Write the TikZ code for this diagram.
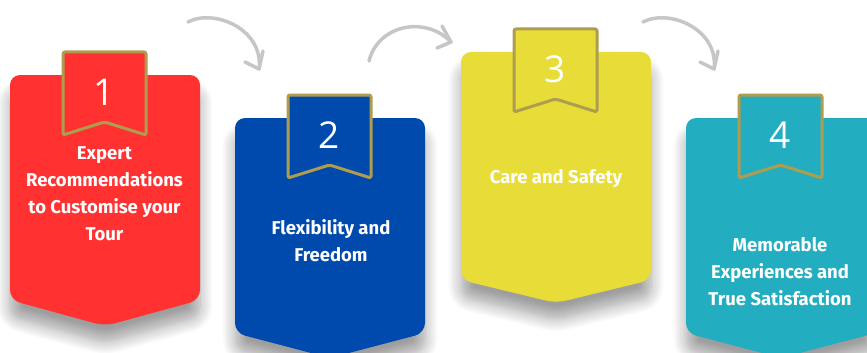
\documentclass[tikz,border=0pt]{standalone}
\usepackage{fontspec}
\setmainfont{Fira Sans}
\newfontfamily\numfont{Open Sans}
\usetikzlibrary{shadows.blur}
\definecolor{cred}{HTML}{FF3131}
\definecolor{cblue}{HTML}{004AAD}
\definecolor{cyel}{HTML}{E8DC38}
\definecolor{cteal}{HTML}{22AEC0}
\definecolor{gold}{HTML}{AE9D4E}
\definecolor{arrowgray}{HTML}{C6C6C6}
\tikzset{
  cardshadow/.style={blur shadow={shadow xshift=0pt,shadow yshift=-17pt,shadow blur radius=13pt,shadow blur steps=10,shadow opacity=38}},
  ribbon/.style={draw=gold,line width=3pt,rounded corners=2pt,line join=round},
  numlbl/.style={text=white,font=\numfont\fontsize{37}{37}\selectfont,inner sep=0pt},
  cardlbl/.style={text=white,font=\bfseries\fontsize{18.5}{27}\selectfont,align=center,inner sep=0pt},
  flowarrow/.style={draw=arrowgray,line width=3.5pt,line cap=round,line join=round},
}
% #1 left x, #2 top y, #3 corner y, #4 point y, #5 colour, #6 number, #7 name
\newcommand\mycard[7]{%
  \fill[#5,cardshadow,rounded corners=10pt]
    ({#1+95},#2) -- ({#1+190},#2) -- ({#1+190},#3) -- ({#1+95},#4)
    -- (#1,#3) -- (#1,#2) -- cycle;
  \filldraw[fill=#5,ribbon]
    ({#1+94.5},{#2-23}) -- ({#1+136},{#2-23}) -- ({#1+136},{#2+60})
    -- ({#1+94.5},{#2+47}) -- ({#1+53},{#2+60}) -- ({#1+53},{#2-23}) -- cycle;
  \node[numlbl] (#7num) at ({#1+94.5},{#2+17}) {#6};
}
\begin{document}
\begin{tikzpicture}[x=1pt,y=-1pt]
\useasboundingbox (0,0) rectangle (867,353);
\clip (0,0) rectangle (867,353);
\mycard{10}{75}{300}{326}{cred}{1}{c1}
\mycard{235}{118}{333}{358}{cblue}{2}{c2}
\mycard{461}{52}{280}{303}{cyel}{3}{c3}
\mycard{686}{118}{333}{358}{cteal}{4}{c4}
\node[cardlbl] (c1lbl) at (104.5,194) {Expert\\Recommendations\\to Customise your\\Tour};
\node[cardlbl] (c2lbl) at (331,241) {Flexibility and\\Freedom};
\node[cardlbl] (c3lbl) at (556,179) {Care and Safety};
\node[cardlbl] (c4lbl) at (780,272) {Memorable\\Experiences and\\True Satisfaction};
% arrows
\coordinate (a1s) at (188,22);
\coordinate (a1e) at (259,69);
\coordinate (a2s) at (369,61);
\coordinate (a2e) at (451,42);
\coordinate (a3s) at (643,22);
\coordinate (a3e) at (714,69);
\draw[flowarrow] (a1s) .. controls (215,8) and (264,30) .. (a1e);
\draw[flowarrow] (245,62) -- (a1e) -- (263,51);
\draw[flowarrow] (a2s) .. controls (378,25) and (425,15) .. (a2e);
\draw[flowarrow] (442,26) -- (a2e) -- (437,48);
\draw[flowarrow] (a3s) .. controls (670,8) and (719,30) .. (a3e);
\draw[flowarrow] (700,62) -- (a3e) -- (718,51);
\end{tikzpicture}
\end{document}
